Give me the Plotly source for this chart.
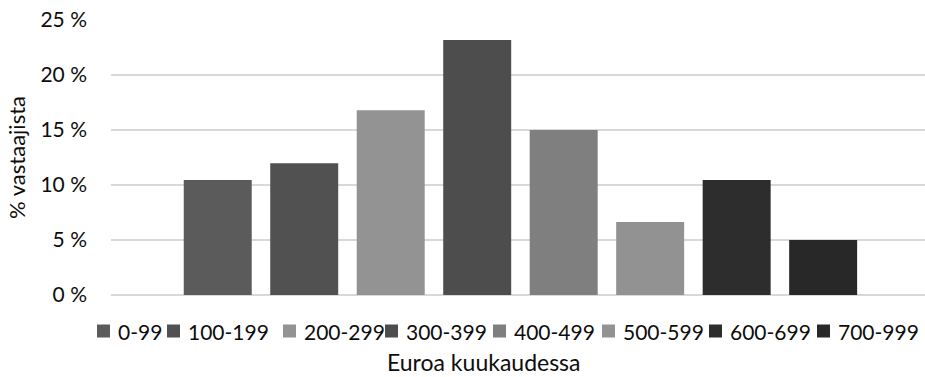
import plotly.graph_objects as go

# Monthly spending brackets (euros) and share of respondents (%)
brackets = ["0-99", "100-199", "200-299", "300-399", "400-499", "500-599", "600-699", "700-999"]
shares = [10.45, 11.97, 16.8, 23.18, 15.0, 6.64, 10.45, 5.0]
colors = ["#5b5b5b", "#515151", "#939393", "#4d4d4d", "#7f7f7f", "#929292", "#2d2d2d", "#282828"]

y_ticks = [0, 5, 10, 15, 20, 25]
y_tick_text = [f"{v} %" for v in y_ticks]

FONT = "Lato"
TEXT = "#0d0d0d"

W, H = 925, 377
ML, MR, MT, MB = 111, 0, 20, 82
PW, PH = W - ML - MR, H - MT - MB


def px_x(x):
    """Pixel column -> paper x coordinate."""
    return (x - ML) / PW


def px_y(y):
    """Pixel row -> paper y coordinate."""
    return (H - MB - y) / PH


fig = go.Figure()
for name, val, col in zip(brackets, shares, colors):
    fig.add_trace(go.Bar(
        x=[""], y=[val], name=name,
        marker=dict(color=col, line=dict(width=0)),
        hoverinfo="name+y", showlegend=False,
    ))

# Legend row below the plot: swatch + label for each bracket
legend_swatch_left = [97, 167, 283, 385, 493, 602, 709, 817]
legend_row_y = 331
swatch = 13
shapes = []
annotations = []
for name, col, sx in zip(brackets, colors, legend_swatch_left):
    shapes.append(dict(
        type="rect", xref="paper", yref="paper",
        x0=px_x(sx), x1=px_x(sx + swatch),
        y0=px_y(legend_row_y + swatch / 2), y1=px_y(legend_row_y - swatch / 2),
        fillcolor=col, line=dict(width=0), layer="above",
    ))
    annotations.append(dict(
        text=name, xref="paper", yref="paper",
        x=px_x(sx + swatch + 6), y=px_y(legend_row_y),
        xanchor="left", yanchor="middle", showarrow=False,
        font=dict(family=FONT, size=21, color=TEXT),
    ))

# Horizontal axis title
annotations.append(dict(
    text="Euroa kuukaudessa", xref="paper", yref="paper",
    x=px_x(484), y=px_y(362), xanchor="center", yanchor="middle",
    showarrow=False, font=dict(family=FONT, size=23, color=TEXT),
))

fig.update_layout(
    width=W, height=H,
    margin=dict(l=ML, r=MR, t=MT, b=MB),
    paper_bgcolor="white", plot_bgcolor="white",
    barmode="group", bargap=0.15, bargroupgap=0.214,
    font=dict(family=FONT, size=21, color=TEXT),
    showlegend=False,
    xaxis=dict(
        type="category", range=[-0.503, 0.497],
        showticklabels=False, showgrid=False, zeroline=False,
        showline=False, fixedrange=True,
    ),
    yaxis=dict(
        range=[0, 25], tickvals=y_ticks, ticktext=y_tick_text,
        showgrid=True, gridcolor="#d9d9d9", gridwidth=1.5,
        zeroline=True, zerolinecolor="#d9d9d9", zerolinewidth=1.5,
        showline=False, ticks="", ticklabelstandoff=23,
        tickfont=dict(family=FONT, size=21, color=TEXT),
        title=dict(text="% vastaajista", font=dict(family=FONT, size=22, color=TEXT), standoff=8),
        automargin=False,
    ),
    shapes=shapes,
    annotations=annotations,
)

fig.write_html("out.html")
